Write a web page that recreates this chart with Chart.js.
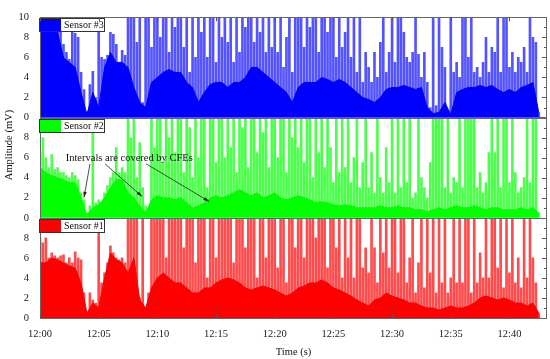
<!DOCTYPE html>
<html lang="en">
<head>
  <meta charset="UTF-8">
  <title>Sensor amplitudes</title>
  <style>
    * { margin: 0; padding: 0; box-sizing: border-box; }
    body { background: #fff; width: 550px; height: 359px; overflow: hidden; }
    #chart { display: block; }
  </style>
</head>
<body>
  <canvas id="chart" width="550" height="359"></canvas>

  <script src="https://cdn.jsdelivr.net/npm/chart.js"></script>
  <script>
    // time in minutes after 12:00
    const BASE_STEP = 0.5;   // dense lower envelope, every half minute
    const PEAK_STEP = 0.25;  // spike heights, every quarter minute
    const xTicks = [0, 5, 10, 15, 20, 25, 30, 35, 40];
    const yTicks = [0, 2, 4, 6, 8, 10];

    // Sensor #3 (top, blue)
    const sensor3Base = [
      8.5, 8.5, 8.5, 8.5, 6.0, 5.5, 5.0, 2.5, 0.3, 2.5,
      1.0, 5.0, 6.5, 5.5, 5.5, 5.0, 3.0, 1.5, 1.0, 3.5,
      4.0, 4.5, 4.8, 4.5, 4.5, 3.5, 3.0, 1.5, 2.5, 3.3,
      3.5, 3.5, 3.0, 3.5, 3.5, 4.0, 5.0, 5.0, 4.5, 4.0,
      3.5, 3.0, 2.5, 1.5, 3.0, 3.5, 3.5, 3.5, 4.0, 3.8,
      3.5, 3.8, 3.5, 3.0, 2.5, 2.0, 1.8, 1.5, 2.0, 2.8,
      3.0, 3.0, 3.2, 3.0, 2.8, 3.0, 1.0, 0.4, 0.5, 1.5,
      0.3, 2.5, 2.8, 3.0, 3.0, 3.2, 3.0, 3.2, 2.8, 2.5,
      2.8, 2.5, 3.0, 3.2, 3.5, 0.5
    ];
    const sensor3Peaks = [
      8.6, 8.6, 8.6, 8.6, 8.6, 8.6, 8.6, 8.5,
      7.3, 6.5, 5.8, 8.5, 8.4, 8.0, 4.5, 2.8,
      0.6, 3.3, 4.6, 2.0, 8.6, 6.0, 5.8, 6.2,
      8.5, 8.3, 7.3, 2.1, 6.7, 6.2, 10, 10,
      10, 7.5, 10, 1.5, 10, 10, 7.0, 10,
      10, 8.0, 10, 10, 6.5, 10, 9.0, 10,
      10, 7.0, 10, 4.5, 10, 6.0, 10, 8.5,
      10, 6.0, 10, 10, 5.5, 10, 8.0, 10,
      7.5, 10, 5.5, 10, 6.5, 10, 9.0, 10,
      10, 7.5, 10, 8.5, 10, 6.5, 10, 7.0,
      10, 6.5, 10, 5.0, 8.0, 10, 4.5, 10,
      10, 10, 7.0, 10, 9.0, 10, 10, 6.5,
      10, 10, 8.5, 10, 10, 6.0, 10, 7.0,
      8.5, 10, 6.0, 10, 4.5, 10, 3.5, 6.5,
      5.0, 3.5, 6.5, 4.0, 7.5, 10, 4.5, 6.5,
      10, 5.5, 10, 10, 8.5, 6.0, 5.5, 6.5,
      10, 6.3, 4.0, 6.5, 3.5, 1.0, 10, 1.2,
      10, 7.0, 5.0, 0.5, 10, 4.5, 5.5, 4.0,
      10, 10, 6.0, 10, 4.5, 5.0, 4.0, 5.5,
      8.0, 4.5, 7.0, 6.5, 10, 4.5, 10, 10,
      5.0, 6.5, 4.5, 6.0, 5.5, 7.0, 4.5, 10,
      8.0, 7.5, 0.5
    ];

    // Sensor #2 (middle, green)
    const sensor2Base = [
      5.0, 4.5, 4.2, 4.0, 3.8, 3.5, 3.5, 2.0, 0.3, 1.0,
      1.3, 2.0, 3.0, 3.8, 3.8, 2.5, 2.0, 1.2, 0.5, 1.8,
      2.2, 2.0, 2.0, 1.8, 2.0, 1.5, 1.0, 1.2, 1.5, 2.0,
      2.2, 2.0, 2.2, 2.5, 2.8, 2.5, 2.2, 2.5, 2.0, 2.2,
      2.5, 2.0, 1.8, 2.0, 2.2, 2.0, 1.8, 1.5, 1.6, 1.5,
      1.3, 1.2, 1.3, 1.2, 1.0, 1.0, 1.0, 1.0, 1.2, 1.0,
      1.0, 1.2, 1.0, 1.0, 0.8, 0.8, 0.6, 0.8, 1.0, 0.8,
      1.0, 1.2, 1.0, 1.0, 1.2, 1.0, 0.8, 1.0, 1.0, 0.8,
      0.8, 0.8, 1.0, 0.8, 1.0, 0.5
    ];
    const sensor2Peaks = [
      6.5, 8.0, 6.0, 5.0, 6.3, 4.8, 5.0, 4.5,
      4.5, 4.2, 4.0, 4.5, 4.2, 3.8, 2.5, 1.8,
      0.5, 1.2, 9.0, 1.5, 1.8, 1.5, 2.5, 3.2,
      4.0, 4.5, 7.0, 4.5, 5.0, 4.5, 10, 8.0,
      10, 4.0, 7.5, 3.0, 1.2, 0.5, 10, 7.0,
      10, 10, 5.5, 10, 8.0, 10, 6.5, 10,
      10, 4.5, 10, 9.0, 4.0, 10, 6.0, 10,
      10, 3.0, 10, 10, 5.5, 10, 10, 6.0,
      10, 7.0, 10, 4.5, 10, 9.0, 10, 5.0,
      10, 10, 6.5, 10, 8.5, 10, 5.0, 10,
      10, 6.0, 10, 10, 4.5, 10, 8.0, 10,
      7.0, 10, 5.5, 10, 10, 4.0, 10, 6.5,
      10, 5.0, 10, 7.0, 3.5, 10, 4.5, 10,
      5.0, 10, 3.5, 6.0, 10, 3.0, 5.5, 10,
      3.0, 6.5, 2.5, 10, 4.0, 2.5, 7.0, 3.5,
      10, 2.5, 10, 3.0, 10, 3.5, 10, 2.0,
      2.5, 10, 4.0, 3.0, 2.0, 5.5, 10, 10,
      10, 10, 3.0, 10, 2.5, 4.0, 3.5, 10,
      3.0, 10, 10, 10, 10, 3.0, 4.5, 2.5,
      3.5, 6.5, 10, 6.5, 10, 3.0, 10, 10,
      3.5, 10, 4.5, 2.5, 3.0, 4.0, 10, 3.5,
      10, 10, 0.5
    ];

    // Sensor #1 (bottom, red)
    const sensor1Base = [
      5.5, 5.5, 6.0, 5.8, 5.5, 5.2, 5.0, 3.5, 0.5, 1.5,
      1.0, 4.0, 6.5, 5.8, 5.5, 4.5, 6.0, 1.8, 1.0, 3.0,
      4.0, 4.5, 4.0, 3.5, 3.5, 3.0, 2.5, 2.5, 3.0, 3.0,
      3.5, 3.8, 4.0, 3.8, 3.5, 3.0, 2.8, 3.0, 3.2, 3.0,
      2.8, 2.5, 2.2, 2.5, 3.0, 3.2, 3.5, 3.5, 3.8, 3.5,
      3.0, 2.8, 2.5, 2.2, 1.8, 1.5, 1.2, 1.8, 2.0, 2.5,
      2.2, 2.0, 1.8, 1.5, 1.5, 1.2, 1.0, 1.0, 0.8, 1.0,
      1.2, 1.0, 1.0, 1.2, 1.5, 2.0, 2.2, 2.0, 1.8, 2.0,
      1.8, 1.5, 1.5, 1.2, 1.5, 0.5
    ];
    const sensor1Peaks = [
      8.0, 7.5, 8.0, 6.0, 6.5, 6.2, 6.0, 6.2,
      6.3, 5.5, 6.0, 5.5, 6.6, 6.0, 5.8, 2.5,
      0.4, 2.5, 1.8, 1.5, 8.5, 3.5, 4.5, 5.5,
      7.2, 6.5, 6.0, 5.8, 6.0, 5.5, 10, 10,
      10, 10, 2.0, 10, 0.8, 2.5, 10, 10,
      10, 10, 10, 6.0, 10, 10, 10, 10,
      10, 7.0, 10, 10, 10, 5.5, 10, 10,
      10, 4.0, 10, 10, 6.0, 10, 10, 10,
      10, 10, 5.5, 10, 10, 10, 7.0, 10,
      10, 10, 4.0, 10, 10, 6.0, 10, 10,
      10, 5.0, 10, 10, 3.5, 10, 10, 7.0,
      10, 10, 6.0, 10, 10, 10, 8.0, 10,
      10, 10, 5.0, 10, 10, 7.0, 10, 4.0,
      10, 6.0, 10, 4.0, 10, 10, 5.0, 7.0,
      4.5, 10, 7.0, 3.5, 10, 6.5, 10, 5.0,
      10, 10, 4.5, 10, 10, 3.5, 6.0, 10,
      2.5, 5.5, 10, 3.0, 10, 4.5, 10, 2.5,
      10, 3.5, 10, 2.5, 4.0, 10, 3.5, 10,
      3.5, 10, 10, 2.5, 10, 3.5, 6.5, 4.0,
      10, 4.0, 10, 10, 5.0, 10, 3.0, 10,
      4.5, 10, 3.5, 6.0, 3.0, 10, 4.0, 10,
      6.0, 3.5, 0.5
    ];

    // panels from top to bottom
    const panels = [
      { axis: 'y3', label: 'Sensor #3', color: '#0000ff', spike: 'rgba(40,40,255,0.8)', base: sensor3Base, peaks: sensor3Peaks },
      { axis: 'y2', label: 'Sensor #2', color: '#00ff00', spike: 'rgba(30,255,30,0.8)', base: sensor2Base, peaks: sensor2Peaks },
      { axis: 'y1', label: 'Sensor #1', color: '#ff0000', spike: 'rgba(255,30,30,0.8)', base: sensor1Base, peaks: sensor1Peaks }
    ];

    // annotation in Sensor #2 panel, in data units (minutes, mV)
    const note = {
      text: 'Intervals are covered by CFEs',
      at: [2.19, 5.96],
      arrows: [
        [[4.26, 5.38], [3.75, 2.02]],
        [[5.54, 5.38], [8.70, 2.12]],
        [[9.04, 5.38], [14.41, 1.63]]
      ]
    };

    const SERIF = '"Liberation Serif", "Times New Roman", serif';

    const datasets = [];
    panels.forEach(p => {
      datasets.push({
        type: 'bar',
        data: p.peaks.map((v, i) => ({ x: i * PEAK_STEP, y: v })),
        yAxisID: p.axis,
        backgroundColor: p.spike,
        barThickness: 2,
        grouped: false,
        order: 2
      });
      datasets.push({
        type: 'line',
        data: p.base.map((v, i) => ({ x: i * BASE_STEP, y: v })),
        yAxisID: p.axis,
        borderColor: p.color,
        borderWidth: 1,
        backgroundColor: p.color,
        fill: 'origin',
        pointRadius: 0,
        tension: 0,
        order: 1
      });
    });

    function yAxis(showTop) {
      return {
        type: 'linear',
        position: 'left',
        stack: 'panels',
        stackWeight: 1,
        min: 0,
        max: 10,
        afterBuildTicks: s => { s.ticks = yTicks.map(v => ({ value: v })); },
        afterFit: s => { s.width = 40; },
        grid: { display: false, drawTicks: false },
        border: { display: false },
        ticks: {
          autoSkip: false,
          padding: 11,
          color: '#222',
          font: { family: SERIF, size: 10.5 },
          callback: v => (v === 10 && !showTop) ? '' : v
        }
      };
    }

    // frames, inner ticks, legends, axis titles and the annotation
    const decorations = {
      id: 'decorations',
      afterDraw(chart) {
        const ctx = chart.ctx;
        const area = chart.chartArea;
        const xs = chart.scales.x;
        ctx.save();

        panels.forEach(p => {
          const ys = chart.scales[p.axis];
          // inner tick marks on the right side
          ctx.strokeStyle = '#555';
          ctx.lineWidth = 1;
          ctx.beginPath();
          for (let v = 1; v < 10; v++) {
            const py = Math.round(ys.getPixelForValue(v)) + 0.5;
            const len = v % 2 === 0 ? 5 : 3;
            ctx.moveTo(area.right - len, py);
            ctx.lineTo(area.right, py);
          }
          ctx.stroke();
          // frame
          ctx.strokeStyle = '#666';
          ctx.strokeRect(area.left + 0.5, Math.round(ys.top) + 0.5,
            area.right - area.left - 1, Math.round(ys.bottom - ys.top));

          // legend box
          const lx = area.left - 1, ly = Math.round(ys.top) + 1;
          ctx.fillStyle = '#fff';
          ctx.fillRect(lx, ly, 65, 14);
          ctx.fillStyle = p.color;
          ctx.fillRect(lx, ly, 22, 14);
          ctx.strokeStyle = '#333';
          ctx.strokeRect(lx + 0.5, ly + 0.5, 65, 13);
          ctx.fillStyle = '#111';
          ctx.font = '10px ' + SERIF;
          ctx.textAlign = 'left';
          ctx.textBaseline = 'middle';
          ctx.fillText(p.label, lx + 25, ly + 7.5);
        });

        // small x ticks on the upper and lower edges
        ctx.strokeStyle = '#555';
        ctx.beginPath();
        xTicks.forEach(v => {
          const px = Math.round(xs.getPixelForValue(v)) + 0.5;
          ctx.moveTo(px, area.top);
          ctx.lineTo(px, area.top + 4);
          ctx.moveTo(px, area.bottom);
          ctx.lineTo(px, area.bottom - 4);
        });
        ctx.stroke();

        // annotation
        const ys2 = chart.scales.y2;
        const P = ([t, v]) => [xs.getPixelForValue(t), ys2.getPixelForValue(v)];
        ctx.fillStyle = '#111';
        ctx.font = '10.5px ' + SERIF;
        ctx.textAlign = 'left';
        ctx.textBaseline = 'middle';
        const tp = P(note.at);
        ctx.fillText(note.text, tp[0], tp[1]);
        ctx.strokeStyle = '#222';
        ctx.lineWidth = 0.8;
        note.arrows.forEach(([a, b]) => {
          const [x0, y0] = P(a), [x1, y1] = P(b);
          ctx.beginPath();
          ctx.moveTo(x0, y0);
          ctx.lineTo(x1, y1);
          ctx.stroke();
          const ang = Math.atan2(y1 - y0, x1 - x0);
          ctx.beginPath();
          ctx.moveTo(x1, y1);
          ctx.lineTo(x1 - 6 * Math.cos(ang - 0.3), y1 - 6 * Math.sin(ang - 0.3));
          ctx.lineTo(x1 - 6 * Math.cos(ang + 0.3), y1 - 6 * Math.sin(ang + 0.3));
          ctx.closePath();
          ctx.fillStyle = '#222';
          ctx.fill();
        });

        // axis titles
        ctx.fillStyle = '#111';
        ctx.font = '10.5px ' + SERIF;
        ctx.textAlign = 'center';
        ctx.textBaseline = 'middle';
        ctx.fillText('Time (s)', (area.left + area.right) / 2, 352);
        ctx.translate(9, 145);
        ctx.rotate(-Math.PI / 2);
        ctx.fillText('Amplitude (mV)', 0, 0);

        ctx.restore();
      }
    };

    new Chart(document.getElementById('chart'), {
      data: { datasets },
      options: {
        responsive: false,
        animation: false,
        devicePixelRatio: 1,
        layout: { padding: { top: 6, right: 3, left: 0, bottom: 0 } },
        plugins: { legend: { display: false }, tooltip: { enabled: false } },
        scales: {
          x: {
            type: 'linear',
            offset: false,
            min: 0,
            max: 43.2,
            afterBuildTicks: s => { s.ticks = xTicks.map(v => ({ value: v })); },
            afterFit: s => { s.height = 41; },
            grid: { display: false, drawTicks: false, offset: false },
            border: { display: false },
            ticks: {
              autoSkip: false,
              padding: 10,
              maxRotation: 0,
              color: '#222',
              font: { family: SERIF, size: 10.5 },
              callback: v => '12:' + String(v).padStart(2, '0')
            }
          },
          // stacked axes are laid out bottom-up in definition order
          y1: yAxis(false),
          y2: yAxis(false),
          y3: yAxis(true)
        }
      },
      plugins: [decorations]
    });
  </script>
</body>
</html>
